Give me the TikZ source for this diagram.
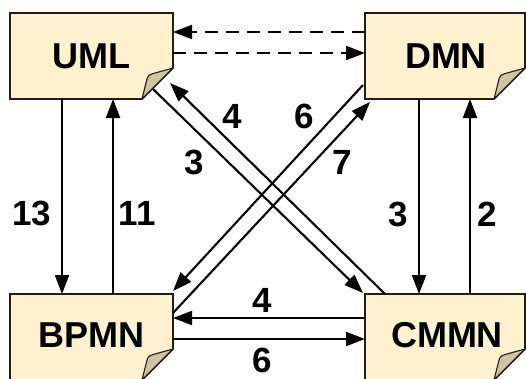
\documentclass[tikz,border=0pt]{standalone}
\usepackage{fontspec}
\setmainfont{Liberation Sans}
\usetikzlibrary{arrows.meta,calc}

\definecolor{docfill}{HTML}{FEF1CD}
\definecolor{flapfill}{HTML}{CFC5A0}
\definecolor{docline}{HTML}{1E1E1E}

\tikzset{
  docbox/.style={rectangle, draw=none, outer sep=0pt, inner sep=0pt,
    minimum width=163pt, minimum height=86pt,
    font=\bfseries\fontsize{36}{42}\selectfont},
  num/.style={font=\bfseries\fontsize{35}{40}\selectfont, inner sep=0pt},
  arr/.style={line width=2.1pt, -{Triangle[length=19pt,width=14pt]}},
  dasharr/.style={arr, dash pattern=on 13pt off 8pt},
}

% folded-corner document outline drawn around a named node
\newcommand\docoutline[1]{%
  \draw[docline, line width=1.6pt, fill=docfill, line join=miter]
    (#1.north west) -- (#1.north east) -- ($(#1.south east)+(0,-31)$)
    -- ($(#1.south east)+(-31,0)$) -- (#1.south west) -- cycle;
  \draw[docline, line width=1.1pt, fill=flapfill, line join=round]
    ($(#1.south east)+(-31,0)$) -- ($(#1.south east)+(-26,-20)$)
    .. controls ($(#1.south east)+(-25,-24)$) and ($(#1.south east)+(-22,-25)$)
    .. ($(#1.south east)+(-18,-26)$) -- ($(#1.south east)+(0,-31)$) -- cycle;
}

\begin{document}
\begin{tikzpicture}[x=1pt, y=-1pt]
\useasboundingbox (0,0) rectangle (526,378);

% the four notation boxes
\node[docbox] (uml)  at (91.5,56) {};
\node[docbox, minimum width=160pt] (dmn) at (445,56) {};
\node[docbox] (bpmn) at (91.5,337) {};
\node[docbox, minimum width=160pt] (cmmn) at (445,337) {};
\docoutline{uml}
\docoutline{dmn}
\docoutline{bpmn}
\docoutline{cmmn}
\node[docbox] at (uml) {UML};
\node[docbox] at ($(dmn)+(1,0)$) {DMN};
\node[docbox] at ($(bpmn)+(0,-2)$) {BPMN};
\node[docbox] at ($(cmmn)+(2,-2)$) {CMMN};

% dashed links between UML and DMN
\draw[dasharr] ($(dmn.north west)+(0,19)$) -- ($(uml.north east)+(0,19)$);
\draw[dasharr] ($(uml.north east)+(0,40)$) -- ($(dmn.north west)+(0,40)$);

% vertical links
\draw[arr] ($(uml.south west)+(52,0)$) -- ($(bpmn.north west)+(52,0)$);
\draw[arr] ($(bpmn.north west)+(103,0)$) -- ($(uml.south west)+(103,0)$);
\draw[arr] ($(dmn.south west)+(54,0)$) -- ($(cmmn.north west)+(54,0)$);
\draw[arr] ($(cmmn.north west)+(105,0)$) -- ($(dmn.south west)+(105,0)$);

% horizontal links
\draw[arr] ($(cmmn.north west)+(0,24)$) -- ($(bpmn.north east)+(0,24)$);
\draw[arr] ($(bpmn.north east)+(0,45)$) -- ($(cmmn.north west)+(0,45)$);

% diagonal links
\draw[arr] ($(uml.south east)+(-20,-10)$) -- ($(cmmn.north west)+(-2,-1)$);
\draw[arr] ($(cmmn.north west)+(20,0)$) -- ($(uml.south east)+(-3,-16)$);
\draw[arr] ($(dmn.south west)+(-2,-14)$) -- ($(bpmn.north east)+(0,-3)$);
\draw[arr] ($(bpmn.north east)+(0,19)$) -- ($(dmn.south west)+(5,3)$);

% link counts
\node[num] (n13) at (32,213) {13};
\node[num] (n11) at (137,213) {11};
\node[num] (n3r) at (398,214) {3};
\node[num] (n2)  at (487,214) {2};
\node[num] (n4d) at (232,116) {4};
\node[num] (n6d) at (304,116) {6};
\node[num] (n3d) at (194,162) {3};
\node[num] (n7d) at (342,162) {7};
\node[num] (n4h) at (262,300) {4};
\node[num] (n6h) at (262,360) {6};
\end{tikzpicture}
\end{document}
